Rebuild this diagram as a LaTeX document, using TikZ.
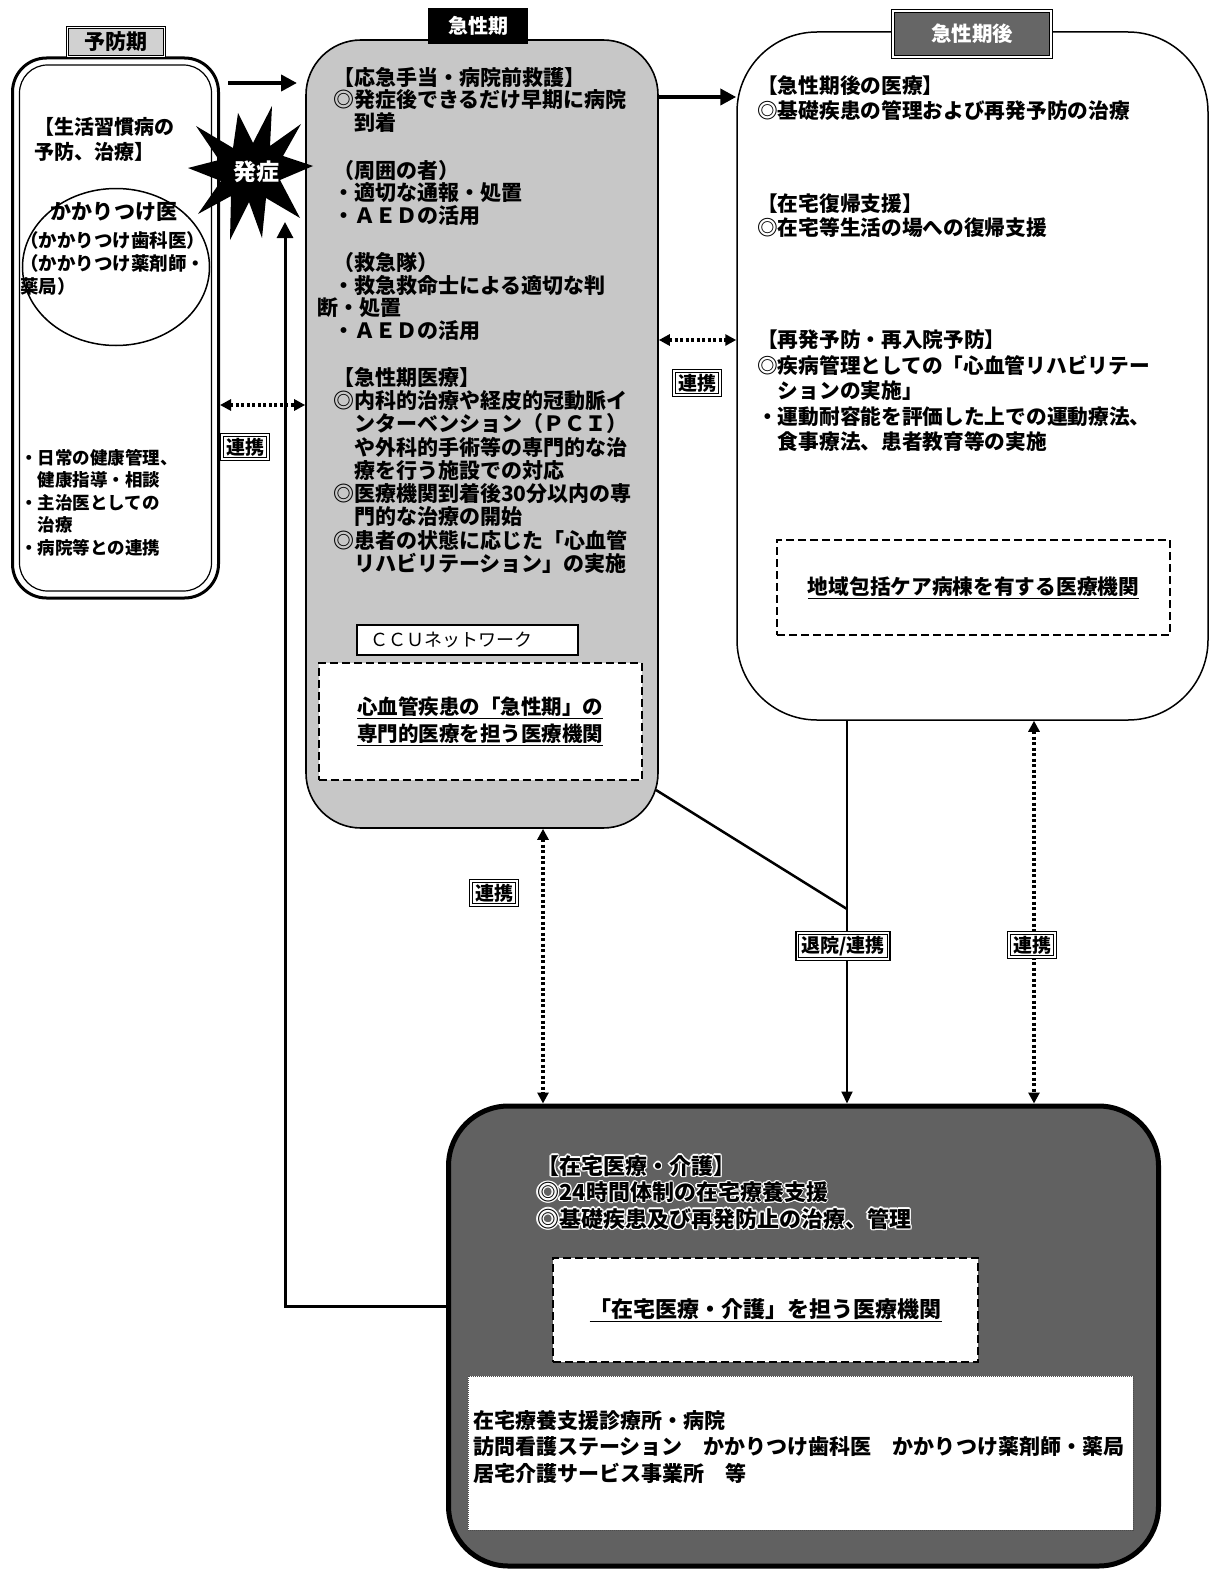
\documentclass[tikz,border=0pt]{standalone}
\usepackage{fontspec}
\setmainfont{Noto Sans CJK JP}
\usetikzlibrary{arrows.meta,shapes.geometric,calc}
\newcommand\fz[2]{\fontsize{#1}{#2}\selectfont}
\tikzset{
  txt/.style={anchor=north west, align=left, inner sep=0pt},
  arr/.style={line width=4pt, -{Triangle[length=16pt,width=16pt]}},
  thinarr/.style={line width=2pt, -{Triangle[length=12pt,width=11pt]}},
  dotarr/.style={line width=3.5pt, dash pattern=on 3pt off 2.5pt,
     {Triangle[length=11pt,width=11pt]}-{Triangle[length=11pt,width=11pt]}},
  link/.style={draw, fill=white, double, line width=1.3pt, double distance=1.4pt,
     inner xsep=4pt, inner ysep=3pt, font=\bfseries\fz{19}{21}},
  dbox/.style={draw, fill=white, line width=2pt, dash pattern=on 8pt off 4pt, align=center},
  hometxt/.style={txt, font=\bfseries\fz{22}{26.5}},
}
\newcommand\halonode[3]{%
  \foreach \hx/\hy in {-1.3/0,1.3/0,0/-1.3,0/1.3,-0.9/-0.9,0.9/-0.9,-0.9/0.9,0.9/0.9}{%
    \node[hometxt, text=white] at ($(#2)+(\hx,\hy)$) {#3};}%
  \node[hometxt] (#1) at (#2) {#3};}
\begin{document}
\begin{tikzpicture}[x=1pt,y=-1pt]
\useasboundingbox (0,0) rectangle (1213,1576);
\fill[white] (0,0) rectangle (1213,1576);

% ---------- left box (予防期)
\node[draw, line width=3pt, rounded corners=34pt, minimum width=206pt, minimum height=540pt] (prev) at (115.5,328) {};
\node[draw, line width=1.2pt, rounded corners=28pt, minimum width=192pt, minimum height=526pt] (previn) at (115.5,328) {};
\node[draw, double, line width=1pt, double distance=1.5pt, fill=black!18, minimum width=97pt, minimum height=29pt, font=\bfseries\fz{21}{22}] (lprev) at (116,42) {予防期};
\node[draw, ellipse, line width=1.5pt, minimum width=187pt, minimum height=157pt] (circ) at (116,267) {};
\node[txt, font=\bfseries\fz{20}{25}] (t1) at (34,117) {【生活習慣病の\\予防、治療】};
\node[font=\bfseries\fz{21}{23}] (t2) at (114,212) {かかりつけ医};
\node[txt, font=\bfseries\fz{18.5}{23}] (t3) at (20,231) {（かかりつけ歯科医）\\（かかりつけ薬剤師・\\薬局）};
\node[txt, font=\bfseries\fz{17.5}{22.5}] (t4) at (20,449) {・日常の健康管理、\\　健康指導・相談\\・主治医としての\\　治療\\・病院等との連携};

% ---------- acute box (急性期)
\node[draw, line width=1.6pt, fill=black!22, rounded corners=55pt, minimum width=352pt, minimum height=788pt] (acute) at (482,434) {};
\node[fill=black, text=white, minimum width=100pt, minimum height=36pt, font=\bfseries\fz{20}{22}] (lacute) at (478,26) {急性期};
\node[txt, font=\bfseries\fz{21}{22.5}] (m1) at (333,67) {【応急手当・病院前救護】\\◎発症後できるだけ早期に病院\\　到着};
\node[txt, font=\bfseries\fz{21}{22.5}] (m2) at (333,160) {（周囲の者）\\・適切な通報・処置\\・ＡＥＤの活用};
\node[txt, font=\bfseries\fz{21}{22.7}] (m3) at (333,252) {（救急隊）\\・救急救命士による適切な判\\\hspace*{-16pt}断・処置\\・ＡＥＤの活用};
\node[txt, font=\bfseries\fz{21}{23.25}] (m4) at (333,367) {【急性期医療】\\◎内科的治療や経皮的冠動脈イ\\　ンターベンション（ＰＣＩ）\\　や外科的手術等の専門的な治\\　療を行う施設での対応\\◎医療機関到着後30分以内の専\\　門的な治療の開始\\◎患者の状態に応じた「心血管\\　リハビリテーション」の実施};
\node[draw, fill=white, line width=1.6pt, minimum height=30pt, inner xsep=13pt, text width=195pt, align=left, font=\fz{18}{20}] (ccu) at (467.5,640) {ＣＣＵネットワーク};
\node[dbox, minimum width=323pt, minimum height=117pt, font=\bfseries\fz{20.5}{27}] (acuteorg) at (480,721) {\underline{心血管疾患の「急性期」の}\\\underline{専門的医療を担う医療機関}};

% ---------- post-acute box (急性期後)
\node[draw, line width=1.5pt, fill=white, rounded corners=80pt, minimum width=471pt, minimum height=688pt] (post) at (972.5,376) {};
\node[draw, double, line width=1pt, double distance=1.5pt, fill=black!60, text=white, minimum width=158pt, minimum height=46pt, font=\bfseries\fz{20.5}{22}] (lpost) at (972,34) {急性期後};
\node[txt, font=\bfseries\fz{20.7}{25}] (r1) at (757,75) {【急性期後の医療】\\◎基礎疾患の管理および再発予防の治療};
\node[txt, font=\bfseries\fz{20.7}{24}] (r2) at (757,194) {【在宅復帰支援】\\◎在宅等生活の場への復帰支援};
\node[txt, font=\bfseries\fz{20.7}{25.5}] (r3) at (757,330) {【再発予防・再入院予防】\\◎疾病管理としての「心血管リハビリテー\\　ションの実施」\\・運動耐容能を評価した上での運動療法、\\　食事療法、患者教育等の実施};
\node[dbox, minimum width=393pt, minimum height=95pt, font=\bfseries\fz{20.7}{24}] (postorg) at (973.5,587.5) {\underline{地域包括ケア病棟を有する医療機関}};

% ---------- home care box
\node[draw, line width=5pt, fill=black!62, rounded corners=60pt, minimum width=710pt, minimum height=460pt] (home) at (803.5,1336) {};
\halonode{h1}{537,1155}{【在宅医療・介護】\\◎24時間体制の在宅療養支援\\◎基礎疾患及び再発防止の治療、管理}
\node[dbox, minimum width=425pt, minimum height=104pt, font=\bfseries\fz{22}{24}] (homeorg) at (765.5,1310) {\underline{「在宅医療・介護」を担う医療機関}};
\node[draw=black!70, fill=white, line width=1pt, dash pattern=on 1pt off 1pt, minimum width=665pt, minimum height=154pt] (homelist) at (800.5,1453) {};
\node[txt, font=\bfseries\fz{21}{26.5}] (hl) at (473,1410) {在宅療養支援診療所・病院\\訪問看護ステーション　かかりつけ歯科医　かかりつけ薬剤師・薬局\\居宅介護サービス事業所　等};

% ---------- onset starburst
\fill[black] (313,166) -- (280,180) -- (300,218) -- (266,198) -- (262,238) -- (249,202)
  -- (230,240) -- (231,196) -- (198,214) -- (221,181) -- (188,168) -- (219,160)
  -- (196,126) -- (233,148) -- (238,113) -- (253,143) -- (272,106) -- (270,146)
  -- (301,124) -- (283,156) -- cycle;
\node[text=white, font=\bfseries\fz{23}{24}] (onset) at (256,172) {発症};

% ---------- connectors
\coordinate (a1s) at (228,83);
\coordinate (a1e) at (297,83);
\coordinate (ya2) at (0,97);
\coordinate (yd1) at (0,405);
\coordinate (yd2) at (0,340);
\coordinate (xv1) at (543,0);
\coordinate (xv2) at (847,0);
\coordinate (xv3) at (1034,0);
\coordinate (dg1) at (656,790);
\coordinate (dg2) at (847,909);
\coordinate (yh) at (0,1306);
\coordinate (upend) at (285,222);

\draw[arr] (a1s) -- (a1e);
\draw[arr] (acute.east |- ya2) -- (post.west |- ya2);
\draw[dotarr] (prev.east |- yd1) -- (acute.west |- yd1);
\draw[dotarr] (acute.east |- yd2) -- (post.west |- yd2);
\draw[dotarr] (acute.south -| xv1) -- (home.north -| xv1);
\draw[line width=2.5pt] (dg1) -- (dg2);
\draw[thinarr] (post.south -| xv2) -- (home.north -| xv2);
\draw[dotarr] (post.south -| xv3) -- (home.north -| xv3);
\draw[arr, line width=3pt] (home.west |- yh) -| (upend);

% ---------- link labels
\node[link] (l1) at (245,447) {連携};
\node[link] (l2) at (697,383) {連携};
\node[link] (l3) at (494,893) {連携};
\node[link] (l4) at (843,946) {退院/連携};
\node[link] (l5) at (1032,945) {連携};
\end{tikzpicture}
\end{document}
